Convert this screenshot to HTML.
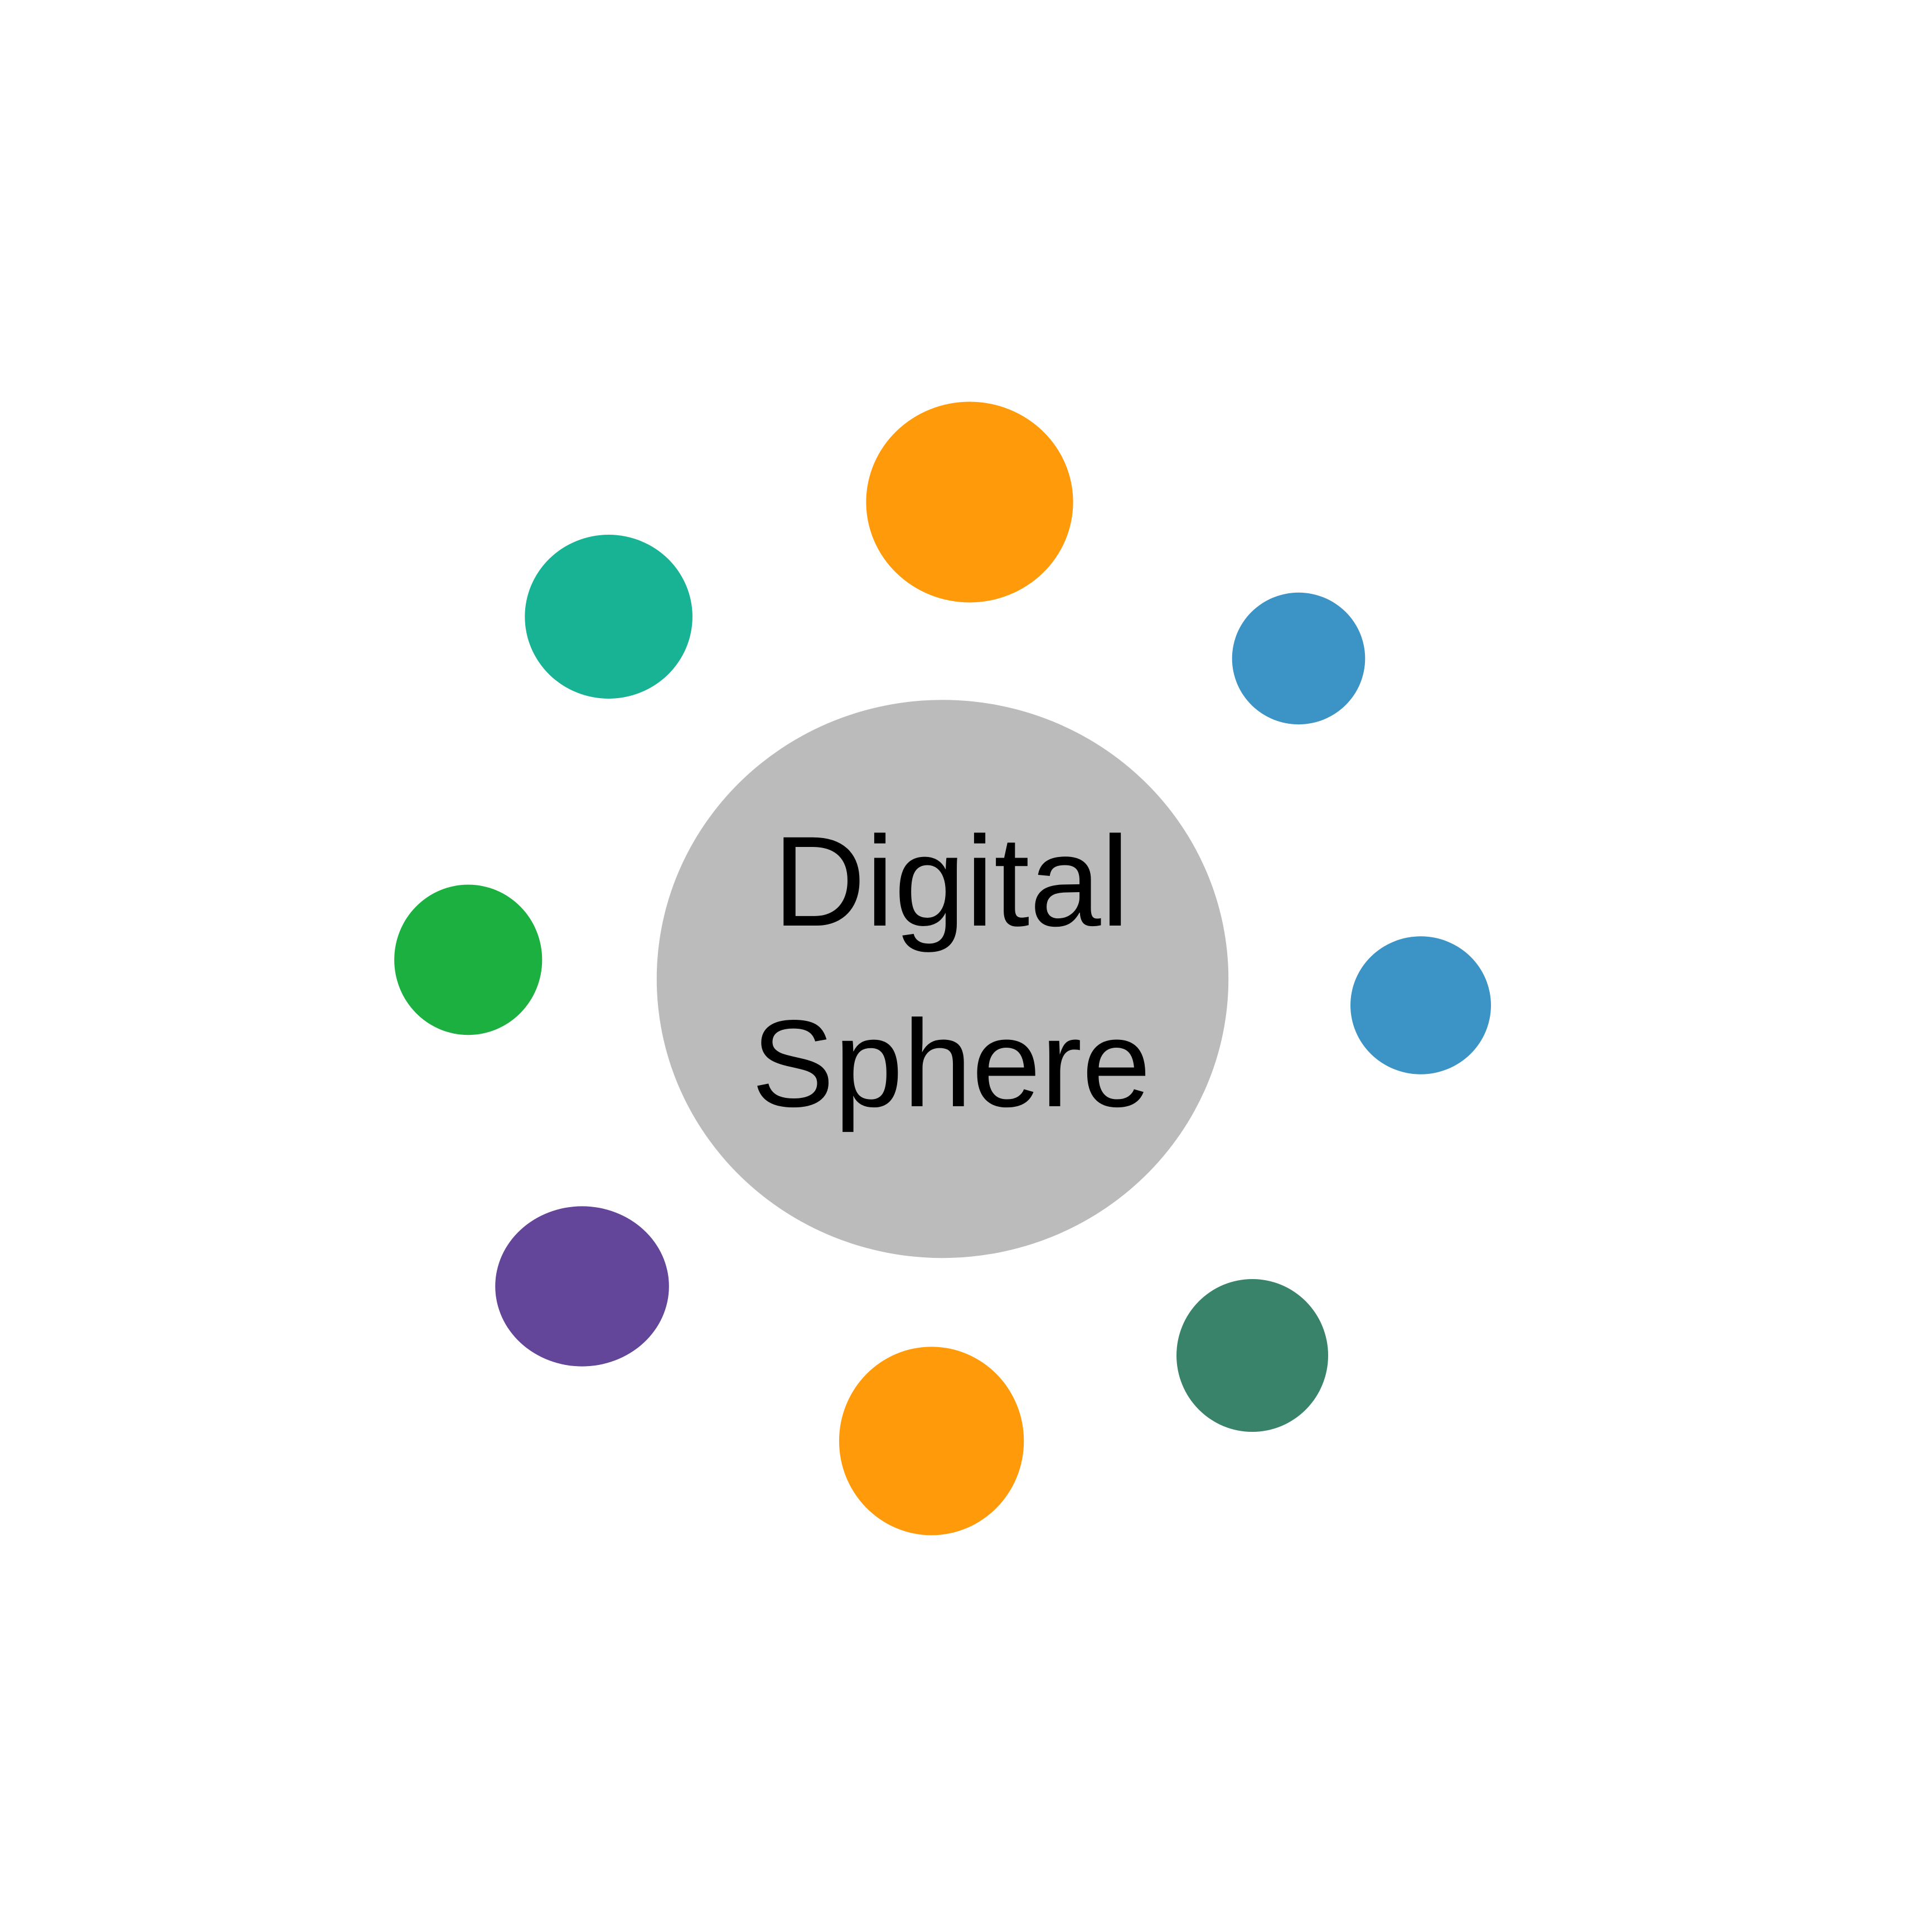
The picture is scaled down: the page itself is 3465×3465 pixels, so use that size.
<!DOCTYPE html>
<html><head><meta charset="utf-8"><style>html,body{margin:0;padding:0;background:#fff}svg{display:block}</style></head>
<body>
<svg width="3465" height="3465" viewBox="0 0 3465 3465" xmlns="http://www.w3.org/2000/svg">
<rect width="3465" height="3465" fill="#fff"/>
<ellipse cx="1690.5" cy="1755.7" rx="512.7" ry="500.5" fill="#BBBBBB"/>
<ellipse cx="1739" cy="900.5" rx="185.6" ry="180" fill="#FF9A0A"/>
<ellipse cx="1091.6" cy="1106" rx="150.3" ry="147" fill="#18B294"/>
<ellipse cx="2329" cy="1181" rx="119.3" ry="118.2" fill="#3B94C5"/>
<ellipse cx="2548" cy="1803" rx="126" ry="123.7" fill="#3B94C5"/>
<ellipse cx="839.7" cy="1721.4" rx="132.6" ry="134.8" fill="#1BB03F"/>
<ellipse cx="1044" cy="2307" rx="155.8" ry="143.6" fill="#634599"/>
<ellipse cx="1670.6" cy="2584.4" rx="165.7" ry="169" fill="#FF9A0A"/>
<ellipse cx="2246" cy="2431" rx="136" ry="137" fill="#38836A"/>
<text x="1706" y="1660" font-family="Liberation Sans, sans-serif" font-size="230" text-anchor="middle" fill="#000">Digital</text>
<text x="1706" y="1984" font-family="Liberation Sans, sans-serif" font-size="222" text-anchor="middle" fill="#000">Sphere</text>
</svg>
</body></html>
